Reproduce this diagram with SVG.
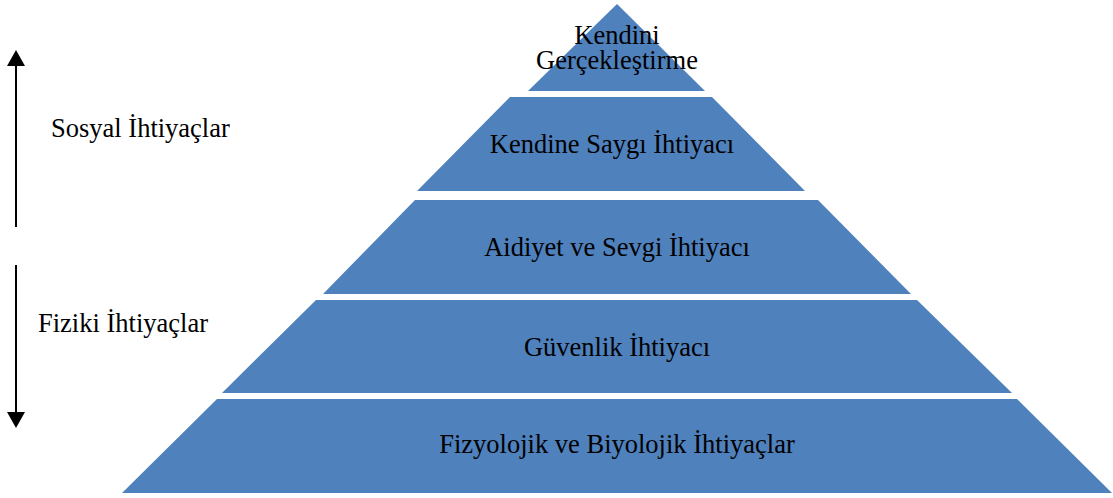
<svg xmlns="http://www.w3.org/2000/svg" width="1113" height="498" viewBox="0 0 1113 498">
<style>
.lvl{fill:#4F81BD;}
.t{font-family:"Liberation Serif","Times New Roman",serif;font-size:26.5px;fill:#000;text-anchor:middle;}
.s{font-family:"Liberation Serif","Times New Roman",serif;font-size:26.5px;fill:#000;}
.ar{stroke:#000;stroke-width:2;fill:none;}
</style>
<defs>
<marker id="ah" markerWidth="8" markerHeight="9" refX="0" refY="4.5" orient="auto" markerUnits="strokeWidth">
<path d="M0,0 L8,4.5 L0,9 Z" fill="#000"/>
</marker>
</defs>
<rect width="1113" height="498" fill="#fff"/>
<g id="level1">
<polygon class="lvl" points="617,4 705,91 528,91"/>
<text class="t" x="617" y="44">Kendini</text>
<text class="t" x="617" y="69">Gerçekleştirme</text>
</g>
<g id="level2">
<polygon class="lvl" points="510,97 712,97 805,191 417,191"/>
<text class="t" x="612" y="153">Kendine Saygı İhtiyacı</text>
</g>
<g id="level3">
<polygon class="lvl" points="415,200 818,200 911,294 323,294"/>
<text class="t" x="617" y="256">Aidiyet ve Sevgi İhtiyacı</text>
</g>
<g id="level4">
<polygon class="lvl" points="316,300 917,300 1012,393 222,393"/>
<text class="t" x="617" y="356">Güvenlik İhtiyacı</text>
</g>
<g id="level5">
<polygon class="lvl" points="217,399 1017,399 1112,493 122,493"/>
<text class="t" x="617" y="453">Fizyolojik ve Biyolojik İhtiyaçlar</text>
</g>
<g id="labels">
<text class="s" x="51" y="137">Sosyal İhtiyaçlar</text>
<text class="s" x="38" y="332">Fiziki İhtiyaçlar</text>
</g>
<g id="connectors">
<line class="ar" x1="16" y1="227" x2="16" y2="66" marker-end="url(#ah)"/>
<line class="ar" x1="16" y1="265" x2="16" y2="412" marker-end="url(#ah)"/>
</g>
</svg>
